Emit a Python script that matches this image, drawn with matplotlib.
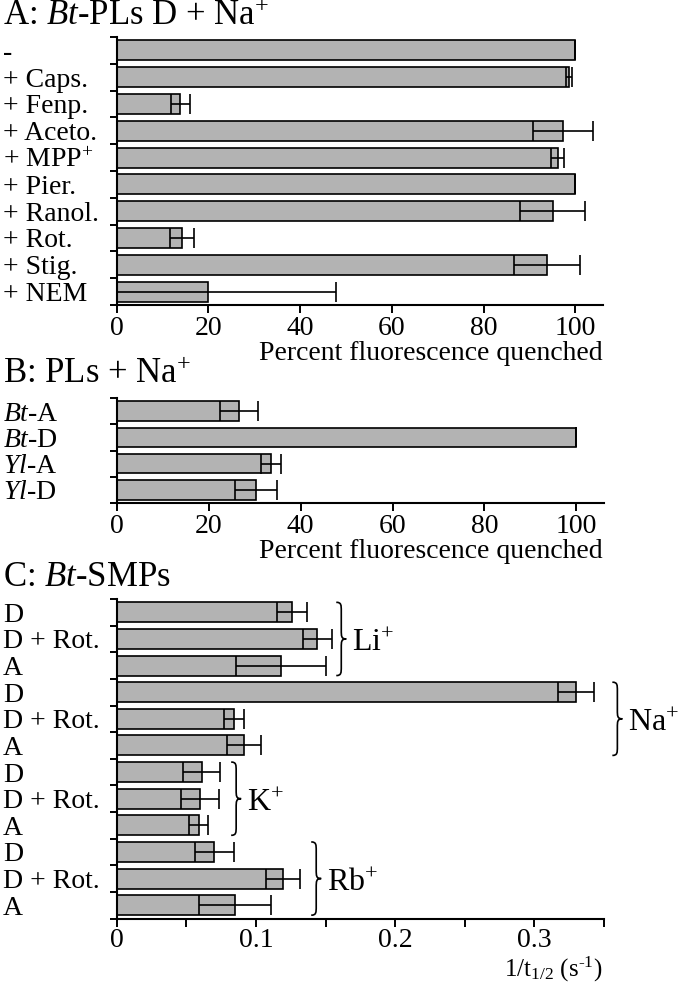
import numpy as np
import matplotlib
matplotlib.use("Agg")
import matplotlib.pyplot as plt
from matplotlib.path import Path
from matplotlib.patches import PathPatch

plt.rcParams["font.family"] = ["Liberation Serif", "DejaVu Serif"]
plt.rcParams["mathtext.fontset"] = "custom"
plt.rcParams["mathtext.rm"] = "Liberation Serif"
plt.rcParams["mathtext.it"] = "Liberation Serif:italic"
plt.rcParams["mathtext.bf"] = "Liberation Serif:bold"

# Panel A: Bt-PLs D + Na+ with inhibitors
a_labels = ["-", "+ Caps.", "+ Fenp.", "+ Aceto.", "+ MPP$^{+}$", "+ Pier.",
            "+ Ranol.", "+ Rot.", "+ Stig.", "+ NEM"]
a_values = [100, 98.6, 13.9, 97.3, 96.1, 100, 95.0, 14.3, 93.8, 20.0]
a_errors = [0, 0.7, 2.1, 6.5, 1.4, 0, 7.0, 2.6, 7.2, 27.7]

# Panel B: PLs + Na+
b_labels = [r"$\mathit{Bt}$-A", r"$\mathit{Bt}$-D", r"$\mathit{Yl}$-A", r"$\mathit{Yl}$-D"]
b_values = [26.6, 100, 33.5, 30.3]
b_errors = [4.2, 0, 2.2, 4.5]

# Panel C: Bt-SMPs, rates per cation
c_labels = ["D", "D + Rot.", "A"] * 4
c_values = [0.126, 0.144, 0.118,
            0.330, 0.084, 0.0915,
            0.061, 0.060, 0.059,
            0.070, 0.1195, 0.085]
c_errors = [0.011, 0.0105, 0.0325,
            0.0128, 0.0072, 0.012,
            0.0132, 0.0138, 0.0069,
            0.014, 0.012, 0.0257]
ions = ["Li$^{+}$", "Na$^{+}$", "K$^{+}$", "Rb$^{+}$"]
ion_x = [0.1577, 0.356, 0.0822, 0.1397]   # brace positions (data units)

W, H = 680, 985
fig = plt.figure(figsize=(W / 100, H / 100), dpi=100)

BAR_COLOR = "#b3b3b3"
FS = 20


def px_axes(x0, x1, ytop, ybot):
    return fig.add_axes([x0 / W, 1 - ybot / H, (x1 - x0) / W, (ybot - ytop) / H])


def bar_panel(ax, labels, values, errors, xlim, xticks, xticklabels, xpad=2):
    n = len(labels)
    pos = np.arange(n)
    ax.barh(pos, values, height=0.75, color=BAR_COLOR, edgecolor="black",
            linewidth=1.2, zorder=1)
    ax.errorbar(values, pos, xerr=errors, fmt="none", ecolor="black",
                elinewidth=1.2, capsize=7.2, capthick=1.2, zorder=2)
    ax.set_ylim(n - 0.5, -0.5)
    ax.set_xlim(*xlim)
    ax.set_yticks(np.arange(n + 1) - 0.5)
    ax.set_yticklabels([])
    ax.set_yticks(pos, labels=labels, minor=True)
    ax.tick_params(axis="y", which="major", direction="out", length=5, width=1.4)
    ax.tick_params(axis="y", which="minor", length=0, pad=82, labelsize=FS)
    for lbl in ax.get_yticklabels(minor=True):
        lbl.set_horizontalalignment("left")
    ax.set_xticks(xticks, labels=xticklabels)
    ax.tick_params(axis="x", direction="out", length=6, width=1.4, pad=xpad,
                   labelsize=FS)
    for side in ["top", "right"]:
        ax.spines[side].set_visible(False)
    for side in ["left", "bottom"]:
        ax.spines[side].set_linewidth(1.5)


def brace(ax, x0, y0, y1, w):
    ym = (y0 + y1) / 2
    q = 0.12 * (y1 - y0)
    xm = x0 + w / 2
    verts = [(x0, y0),
             (xm, y0), (xm, y0 + q * 0.3), (xm, y0 + q),
             (xm, ym - q),
             (xm, ym - q * 0.3), (xm, ym), (x0 + w, ym),
             (xm, ym), (xm, ym + q * 0.3), (xm, ym + q),
             (xm, y1 - q),
             (xm, y1 - q * 0.3), (xm, y1), (x0, y1)]
    codes = [Path.MOVETO] + [Path.CURVE4] * 3 + [Path.LINETO] + [Path.CURVE4] * 6 \
        + [Path.LINETO] + [Path.CURVE4] * 3
    ax.add_patch(PathPatch(Path(verts, codes), facecolor="none", edgecolor="black",
                           linewidth=1.2, clip_on=False))


# Panel A
axA = px_axes(116.7, 603, 37, 305)
pct_ticks = [0, 20, 40, 60, 80, 100]
bar_panel(axA, a_labels, a_values, a_errors, (0, 106), pct_ticks,
          [str(t) for t in pct_ticks])
fig.text(3 / W, 1 - 25 / H, r"A: $\mathit{Bt}$-PLs D + Na$^{+}$", fontsize=25,
         va="baseline", ha="left")
fig.text(603 / W, 1 - 360 / H, "Percent fluorescence quenched", fontsize=FS,
         va="baseline", ha="right")

# Panel B
axB = px_axes(116.7, 604, 398, 503)
bar_panel(axB, b_labels, b_values, b_errors, (0, 106), pct_ticks,
          [str(t) for t in pct_ticks])
fig.text(3 / W, 1 - 383 / H, "B: PLs + Na$^{+}$", fontsize=25,
         va="baseline", ha="left")
fig.text(603 / W, 1 - 558 / H, "Percent fluorescence quenched", fontsize=FS,
         va="baseline", ha="right")

# Panel C
axC = px_axes(116.7, 604, 599, 918.5)
c_ticks = np.arange(0, 0.351, 0.05)
bar_panel(axC, c_labels, c_values, c_errors, (0, 0.35), c_ticks,
          ["0", "", "0.1", "", "0.2", "", "0.3", ""], xpad=0.5)
fig.text(3 / W, 1 - 586 / H, r"C: $\mathit{Bt}$-SMPs", fontsize=25,
         va="baseline", ha="left")
fig.text(603 / W, 1.5 / H, "1/t$_{1/2}$ (s$^{\\text{-}1}$)", fontsize=18,
         va="bottom", ha="right")

for i, (ion, bx) in enumerate(zip(ions, ion_x)):
    first = 3 * i
    brace(axC, bx, first - 0.375, first + 2.375, 0.0072)
    axC.text(bx + 0.0112, first + 1.45, ion, fontsize=23, va="baseline",
             ha="left", clip_on=False)

fig.savefig("out.png", dpi=100)
